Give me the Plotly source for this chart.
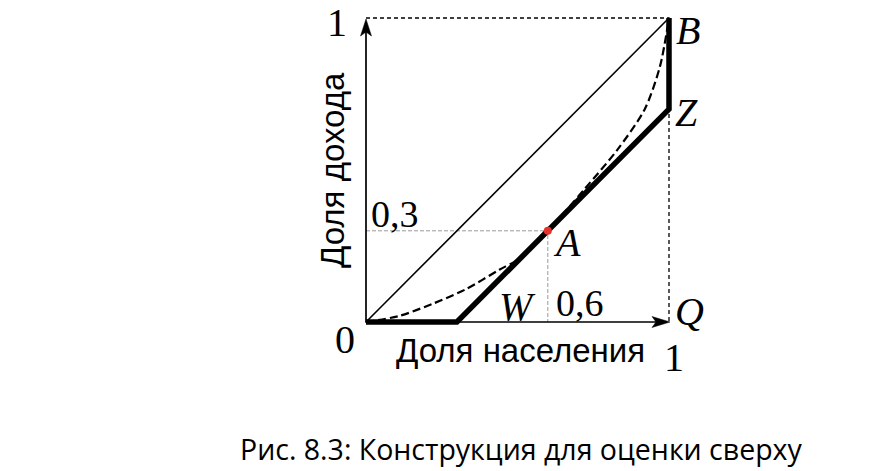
import plotly.graph_objects as go

# ---- data ----
diag_x = [0, 1]
diag_y = [0, 1]
bound_x = [0, 0.3, 1.0, 1.0]          # thick upper-bound polyline 0-W-Z-B
bound_y = [0, 0.0, 0.7, 1.0]
curve_x = [0, 0.11, 0.22, 0.33, 0.44, 0.50, 0.60, 0.72, 0.83, 0.92, 0.97, 1.0]
curve_y = [0, 0.02, 0.06, 0.108, 0.172, 0.205, 0.30, 0.436, 0.567, 0.70, 0.84, 1.0]
point_a = (0.6, 0.3)
box_x = [0, 1, 1]
box_y = [1, 1, 0]

W, H = 886, 471
X0, X1 = 366, 669   # pixel of x=0, x=1
Y0, Y1 = 322, 18    # pixel of y=0, y=1
sx = X1 - X0
sy = Y0 - Y1
xr = [(0 - X0) / sx, (W - X0) / sx]
yr = [(Y0 - H) / sy, (Y0 - 0) / sy]

def px(p):
    return (p - X0) / sx

def py(p):
    return (Y0 - p) / sy

fig = go.Figure()

# dashed bounding box
fig.add_trace(go.Scatter(x=box_x, y=box_y, mode="lines",
                         line=dict(color="black", width=1.3, dash="4px,3px"),
                         hoverinfo="skip"))
# grey guide lines for A
fig.add_trace(go.Scatter(x=[0, point_a[0], point_a[0]], y=[point_a[1], point_a[1], 0],
                         mode="lines", line=dict(color="#9a9a9a", width=1, dash="4px,2px"),
                         hoverinfo="skip"))
# axes (lines)
fig.add_trace(go.Scatter(x=[0, 0, px(660)], y=[py(30), 0, 0], mode="lines",
                         line=dict(color="black", width=1.7), hoverinfo="skip"))
# diagonal
fig.add_trace(go.Scatter(x=diag_x, y=diag_y, mode="lines",
                         line=dict(color="black", width=1.6), hoverinfo="skip"))
# Lorenz curve (dashed)
fig.add_trace(go.Scatter(x=curve_x, y=curve_y, mode="lines",
                         line=dict(color="black", width=2.2, dash="8px,4px", shape="spline",
                                   smoothing=0.8),
                         hoverinfo="skip"))
# thick bound
fig.add_trace(go.Scatter(x=bound_x, y=bound_y, mode="lines",
                         line=dict(color="black", width=5.5), hoverinfo="skip"))
# point A
fig.add_trace(go.Scatter(x=[point_a[0]], y=[point_a[1]], mode="markers",
                         marker=dict(color="#e8312a", size=8), hoverinfo="skip"))

# stealth arrowheads (pixel geometry converted to data coords)
def arrow_right(tx, ty, L=18, Wd=11, notch=4):
    pts = [(tx, ty), (tx - L, ty - Wd / 2), (tx - L + notch, ty), (tx - L, ty + Wd / 2)]
    return "M " + " L ".join(f"{px(a)},{py(b)}" for a, b in pts) + " Z"

def arrow_up(tx, ty, L=17, Wd=11, notch=4):
    pts = [(tx, ty), (tx - Wd / 2, ty + L), (tx, ty + L - notch), (tx + Wd / 2, ty + L)]
    return "M " + " L ".join(f"{px(a)},{py(b)}" for a, b in pts) + " Z"

shapes = [
    dict(type="path", path=arrow_right(670, Y0), xref="x", yref="y",
         fillcolor="black", line=dict(color="black", width=0.5)),
    dict(type="path", path=arrow_up(X0, 19), xref="x", yref="y",
         fillcolor="black", line=dict(color="black", width=0.5)),
]

ann = []
serif = "Liberation Serif"
def lab(text, cx, cy, size, italic=False, family=serif):
    t = f"<i>{text}</i>" if italic else text
    ann.append(dict(x=px(cx), y=py(cy), xref="x", yref="y", text=t, showarrow=False,
                    font=dict(family=family, size=size, color="black"),
                    xanchor="center", yanchor="middle"))

lab("1", 337, 22, 40)
lab("0", 345, 339, 40)
lab("1", 674, 357, 40)
lab("0,3", 395, 214, 38)
lab("0,6", 580, 303, 38)
lab("A", 567, 242, 40, True)
lab("W", 517, 306, 40, True)
lab("Q", 689, 311, 40, True)
lab("B", 688, 30, 40, True)
lab("Z", 686, 112, 40, True)
lab("Доля населения", 520, 350, 33, family="Liberation Sans")
ann.append(dict(x=px(332), y=py(170), xref="x", yref="y", text="Доля дохода",
                showarrow=False, textangle=-90,
                font=dict(family="Liberation Sans", size=33, color="black"),
                xanchor="center", yanchor="middle"))
lab("Рис. 8.3: Конструкция для оценки сверху", 521, 449, 28.5, family="Open Sans")

fig.update_layout(
    width=W, height=H, margin=dict(l=0, r=0, t=0, b=0),
    paper_bgcolor="white", plot_bgcolor="white", showlegend=False,
    xaxis=dict(range=xr, visible=False, fixedrange=True),
    yaxis=dict(range=yr, visible=False, fixedrange=True),
    annotations=ann, shapes=shapes,
)
fig.write_html("out.html")
